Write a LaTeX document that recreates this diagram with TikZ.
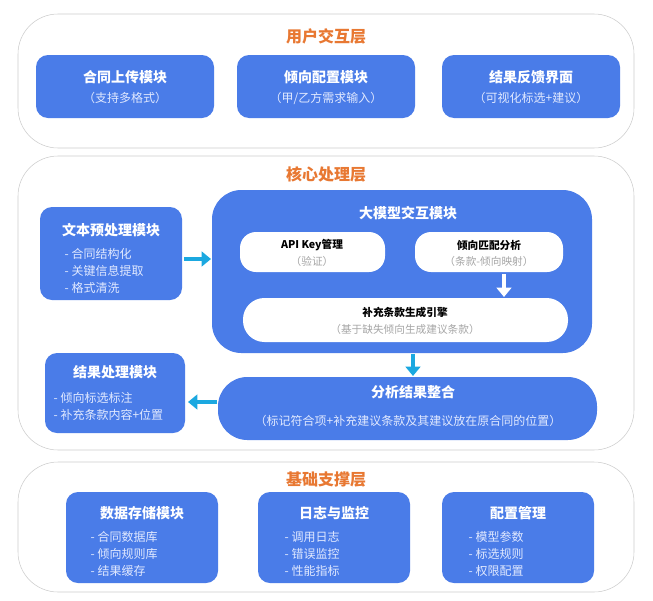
\documentclass[tikz,border=0pt]{standalone}
\usepackage{fontspec}
\setmainfont{Noto Sans CJK SC}
\usetikzlibrary{arrows.meta}
\definecolor{modblue}{RGB}{74,124,232}
\definecolor{layerorange}{RGB}{232,120,50}
\definecolor{flowcyan}{RGB}{27,168,224}
\definecolor{subtxt}{RGB}{225,233,255}
\tikzset{
	layer/.style    = {draw=gray!40, fill=white, rounded corners=30},
	mod/.style      = {fill=modblue, rounded corners=9},
	inner/.style    = {fill=white, rounded corners=12},
	ltitle/.style   = {text=layerorange, font=\fontsize{12}{14}\selectfont\bfseries},
	mtitle/.style   = {text=white, font=\fontsize{10.5}{12}\selectfont\bfseries},
	msub/.style     = {text=subtxt, font=\fontsize{9}{11}\selectfont},
	mitem/.style    = {text=subtxt, font=\fontsize{9}{11}\selectfont, anchor=west},
	ititle/.style   = {text=black, font=\fontsize{8}{10}\selectfont\bfseries},
	isub/.style     = {text=gray!70, font=\fontsize{8}{10}\selectfont},
	flow/.style     = {-{Triangle[length=7pt,width=11pt]}, line width=3pt, flowcyan}
}
\begin{document}
\begin{tikzpicture}[x=0.75pt, y=-0.75pt]
	\useasboundingbox (0,0) rectangle (653,600);
	
	% layers
	\draw[layer] (18,14) rectangle (634,148);
	\draw[layer] (18,156) rectangle (634,450);
	\draw[layer] (18,462) rectangle (634,592);
	\node[ltitle] (l1) at (326,36) {用户交互层};
	\node[ltitle] (l2) at (326,174) {核心处理层};
	\node[ltitle] (l3) at (326,480) {基础支撑层};
	
	% user layer
	\fill[mod] (36,55) rectangle (214,118);
	\fill[mod] (237,55) rectangle (415,118);
	\fill[mod] (442,55) rectangle (620,118);
	\node[mtitle] (up) at (125,77) {合同上传模块};
	\node[msub] at (125,98) {（支持多格式）};
	\node[mtitle] (cfg) at (326,77) {倾向配置模块};
	\node[msub] at (326,98) {（甲/乙方需求输入）};
	\node[mtitle] (fb) at (531,77) {结果反馈界面};
	\node[msub] at (531,98) {（可视化标选+建议）};
	
	% core layer
	\fill[mod] (40,207) rectangle (182,300);
	\node[mtitle] (pre) at (111,230) {文本预处理模块};
	\node[mitem] at (60,254) {- 合同结构化};
	\node[mitem] at (60,271) {- 关键信息提取};
	\node[mitem] at (60,288) {- 格式清洗};
	\coordinate (preE) at (184,259);
	
	\fill[mod, rounded corners=22] (212,190) rectangle (592,353);
	\node[mtitle] (llm) at (408,213) {大模型交互模块};
	\coordinate (llmW) at (211,259);
	\coordinate (llmS) at (413,354);
	\fill[inner] (240,232) rectangle (385,272);
	\node[ititle] (api) at (312,245) {API Key管理};
	\node[isub] at (312,261) {（验证）};
	\fill[inner] (415,232) rectangle (563,272);
	\node[ititle] (match) at (489,245) {倾向匹配分析};
	\node[isub] at (489,261) {（条款-倾向映射）};
	\coordinate (matchS) at (504,274);
	\fill[inner, rounded corners=16] (243,298) rectangle (568,342);
	\node[ititle] (gen) at (405,312) {补充条款生成引擎};
	\node[isub] at (405,329) {（基于缺失倾向生成建议条款）};
	\coordinate (genN) at (504,297);
	
	\fill[mod, rounded corners=22] (218,377) rectangle (597,440);
	\node[mtitle] (merge) at (413,392) {分析结果整合};
	\node[msub] at (408,421) {（标记符合项+补充建议条款及其建议放在原合同的位置）};
	\coordinate (mergeN) at (413,376);
	\coordinate (mergeW) at (217,402);
	
	\fill[mod] (45,353) rectangle (185,433);
	\node[mtitle] (res) at (115,372) {结果处理模块};
	\node[mitem] at (49,398) {- 倾向标选标注};
	\node[mitem] at (49,415) {- 补充条款内容+位置};
	\coordinate (resE) at (188,402);
	
	\draw[flow] (preE) -- (llmW);
	\draw[flow] (llmS) -- (mergeN);
	\draw[flow] (mergeW) -- (resE);
	\draw[-{Triangle[length=7pt,width=11pt]}, line width=3pt, white] (matchS) -- (genN);
	
	% support layer
	\fill[mod] (66,492) rectangle (218,583);
	\fill[mod] (258,492) rectangle (410,583);
	\fill[mod] (442,492) rectangle (594,583);
	\node[mtitle] (store) at (142,513) {数据存储模块};
	\node[mitem] at (86,537) {- 合同数据库};
	\node[mitem] at (86,554) {- 倾向规则库};
	\node[mitem] at (86,571) {- 结果缓存};
	\node[mtitle] (log) at (334,513) {日志与监控};
	\node[mitem] at (280,537) {- 调用日志};
	\node[mitem] at (280,554) {- 错误监控};
	\node[mitem] at (280,571) {- 性能指标};
	\node[mtitle] (mgr) at (518,513) {配置管理};
	\node[mitem] at (464,537) {- 模型参数};
	\node[mitem] at (464,554) {- 标选规则};
	\node[mitem] at (464,571) {- 权限配置};
\end{tikzpicture}
\end{document}
